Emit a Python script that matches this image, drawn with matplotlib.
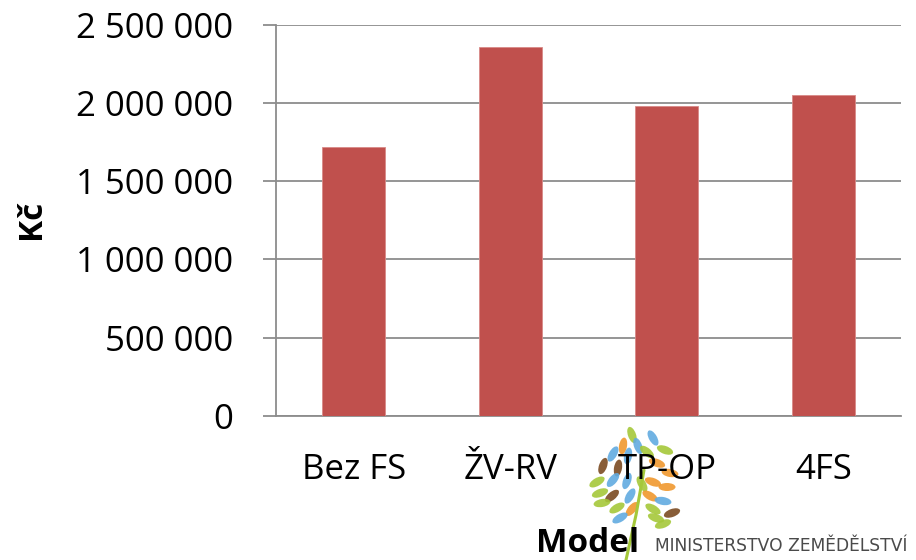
import matplotlib.pyplot as plt
from matplotlib.patches import Ellipse
from matplotlib.ticker import FuncFormatter

# data
models = ['Bez FS', 'ŽV-RV', 'TP-OP', '4FS']
costs = [1720000, 2357000, 1979000, 2049000]
y_ticks = [0, 500000, 1000000, 1500000, 2000000, 2500000]

bar_color = '#C0504D'
grid_color = '#8C8C8C'

plt.rcParams['font.family'] = ['Open Sans', 'DejaVu Sans']

fig = plt.figure(figsize=(9.16, 5.6), dpi=100)
W, H = 916, 560

# logo layer (behind the chart texts)
logo = fig.add_axes([0, 0, 1, 1], zorder=0)
logo.set_xlim(0, W)
logo.set_ylim(H, 0)
logo.axis('off')

leaves = [
    (632, 435, 'g', 70), (623, 446, 'o', 100), (638, 446, 'b', 70), (653, 438, 'b', 60),
    (613, 454, 'b', 120), (628, 456, 'b', 100), (647, 452, 'g', 40), (665, 450, 'g', 20),
    (603, 466, 'n', 110), (618, 468, 'n', 100), (657, 463, 'o', 20), (670, 473, 'o', 10),
    (597, 482, 'g', 150), (613, 480, 'b', 130), (627, 481, 'b', 110), (642, 484, 'g', 60),
    (653, 482, 'o', 20), (667, 487, 'o', 0), (600, 493, 'g', 160), (612, 496, 'n', 140),
    (630, 496, 'b', 120), (650, 496, 'o', 30), (663, 501, 'b', 10), (602, 503, 'g', 170),
    (617, 508, 'g', 150), (632, 509, 'o', 130), (653, 509, 'g', 30), (672, 513, 'n', 160),
    (620, 518, 'b', 150), (656, 518, 'g', 20), (663, 524, 'g', 160),
]
leaf_colors = {'g': '#A5C83A', 'b': '#62ABE0', 'o': '#F0982E', 'n': '#7B4B22'}
for lx, ly, c, ang in leaves:
    logo.add_patch(Ellipse((lx, ly), 17, 8, angle=ang, color=leaf_colors[c], alpha=0.9, lw=0))
logo.plot([644, 636, 626], [470, 515, 560], color='#A5C83A', lw=2.2, solid_capstyle='round')
logo.text(655, 551, 'MINISTERSTVO ZEMĚDĚLSTVÍ', fontsize=12.3, color='#4A4A4A',
          ha='left', va='baseline', family='DejaVu Sans')

# main chart
ax = fig.add_axes([275.5 / W, 1 - 415.7 / H, 626 / W, 390.7 / H], zorder=1)
ax.set_facecolor('none')

x = range(len(models))
ax.bar(x, costs, width=0.4, color=bar_color, edgecolor='#D88A88', linewidth=0.6, zorder=3)

ax.set_xlim(-0.5, len(models) - 0.5)
ax.set_ylim(0, 2500000)
ax.set_yticks(y_ticks)
ax.yaxis.set_major_formatter(FuncFormatter(lambda v, p: f'{int(v):,}'.replace(',', ' ')))
ax.set_xticks(list(x))
ax.set_xticklabels(models)

ax.grid(axis='y', color=grid_color, linewidth=1.3, zorder=0)
ax.set_axisbelow(True)
for s in ['top', 'right']:
    ax.spines[s].set_visible(False)
for s in ['left', 'bottom']:
    ax.spines[s].set_color(grid_color)
    ax.spines[s].set_linewidth(1.3)

ax.tick_params(axis='y', length=9.7, width=1.3, color=grid_color, pad=21, labelsize=25)
ax.tick_params(axis='x', length=0, pad=27, labelsize=25)

fig.text(31.7 / W, 1 - 219 / H, 'Kč', rotation=90, ha='center', va='center',
         fontsize=24, fontweight='bold', zorder=5)
fig.text(588 / W, 1 - 552 / H, 'Model', ha='center', va='baseline',
         fontsize=24, fontweight='bold', zorder=5)

fig.savefig('out.png', dpi=100)
